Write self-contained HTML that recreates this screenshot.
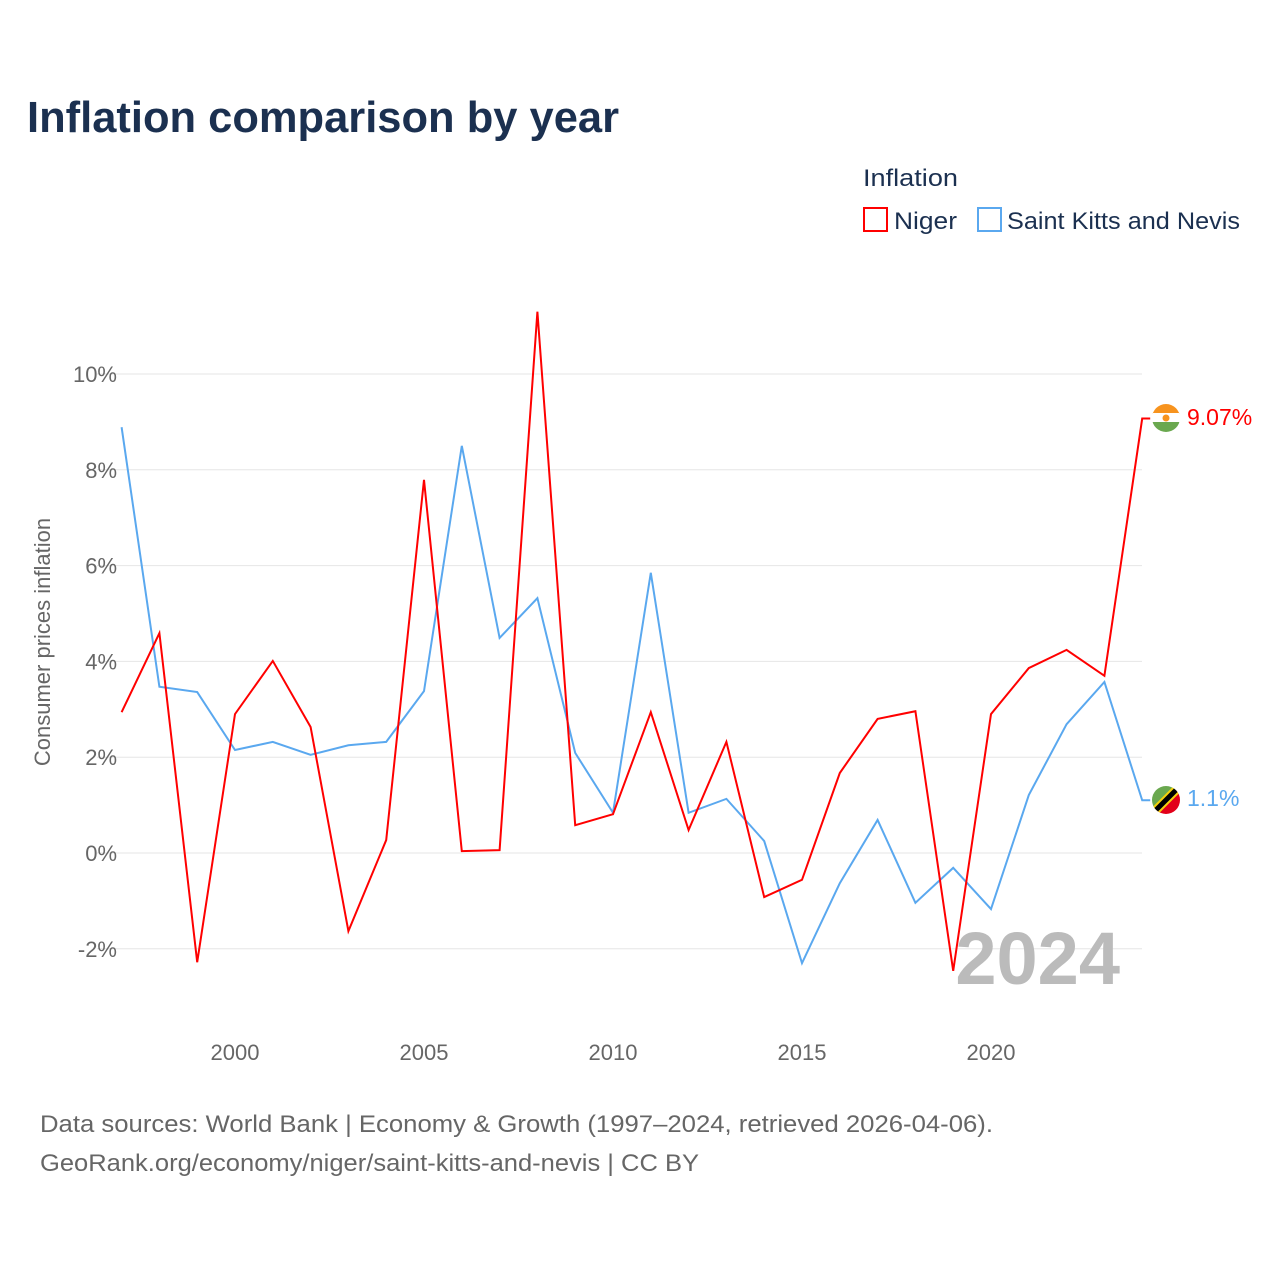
<!DOCTYPE html>
<html><head><meta charset="utf-8">
<style>
body{margin:0;width:1280px;height:1280px;background:#fff;font-family:"Liberation Sans",sans-serif;overflow:hidden}
</style></head>
<body>
<svg width="1280" height="1280" xmlns="http://www.w3.org/2000/svg">
<text x="27" y="132" font-size="44" font-weight="bold" fill="#1b3050" textLength="592" lengthAdjust="spacingAndGlyphs">Inflation comparison by year</text>
<text x="863" y="186" font-size="24" fill="#1b3050" textLength="95" lengthAdjust="spacingAndGlyphs">Inflation</text>
<g><rect x="864" y="208" width="23" height="23" fill="none" stroke="#ff0000" stroke-width="2"/><text x="894" y="229" font-size="24" fill="#1b3050" textLength="63" lengthAdjust="spacingAndGlyphs">Niger</text></g>
<g><rect x="978" y="208" width="23" height="23" fill="none" stroke="#5aa8ef" stroke-width="2"/><text x="1007" y="229" font-size="24" fill="#1b3050" textLength="233" lengthAdjust="spacingAndGlyphs">Saint Kitts and Nevis</text></g>
<text transform="translate(50,642) rotate(-90)" text-anchor="middle" font-size="22" fill="#666">Consumer prices inflation</text>
<g id="grid"></g><g id="xt"></g>
<text x="1120" y="984" text-anchor="end" font-size="74" font-weight="bold" fill="#bbb">2024</text>
<g id="lines"></g>
<g><clipPath id="c1"><circle cx="1166" cy="418" r="14"/></clipPath><g clip-path="url(#c1)"><rect x="1152" y="404" width="28" height="10" fill="#f7931e"/><rect x="1152" y="413" width="28" height="10" fill="#fff"/><rect x="1152" y="422" width="28" height="10" fill="#6aa84f"/><circle cx="1166" cy="418" r="3.5" fill="#f7931e"/></g></g>
<g><clipPath id="c2"><circle cx="1166" cy="800" r="14"/></clipPath><g clip-path="url(#c2)"><polygon points="1152,786 1180,786 1152,814" fill="#6aa84f"/><polygon points="1180,786 1180,814 1152,814" fill="#e2001a"/><line x1="1154" y1="812" x2="1178" y2="788" stroke="#f5d10c" stroke-width="9"/><line x1="1154" y1="812" x2="1178" y2="788" stroke="#000" stroke-width="5"/></g></g>
<text x="1187" y="425" font-size="23" fill="#ff0000">9.07%</text>
<text x="1187" y="806" font-size="23" fill="#5aa8ef">1.1%</text>
<text x="40" y="1132" font-size="24" fill="#666" textLength="953" lengthAdjust="spacingAndGlyphs">Data sources: World Bank | Economy &amp; Growth (1997–2024, retrieved 2026-04-06).</text>
<text x="40" y="1171" font-size="24" fill="#666" textLength="659" lengthAdjust="spacingAndGlyphs">GeoRank.org/economy/niger/saint-kitts-and-nevis | CC BY</text>
</svg>
<script>
const years=[1997,1998,1999,2000,2001,2002,2003,2004,2005,2006,2007,2008,2009,2010,2011,2012,2013,2014,2015,2016,2017,2018,2019,2020,2021,2022,2023,2024];
const niger=[2.94,4.59,-2.28,2.90,4.01,2.63,-1.63,0.27,7.79,0.04,0.06,11.3,0.58,0.81,2.94,0.48,2.32,-0.92,-0.56,1.67,2.80,2.96,-2.46,2.90,3.86,4.24,3.70,9.07];
const skn=[8.89,3.47,3.36,2.15,2.32,2.05,2.25,2.32,3.38,8.50,4.49,5.32,2.09,0.84,5.85,0.84,1.13,0.25,-2.30,-0.63,0.69,-1.04,-0.31,-1.17,1.21,2.69,3.57,1.1];
const yTicks=[-2,0,2,4,6,8,10];
const xTicks=[2000,2005,2010,2015,2020];
const X=y=>235+(y-2000)*37.8;
const Y=v=>853-v*47.9;
const NS="http://www.w3.org/2000/svg";
const g=document.getElementById('grid');
yTicks.forEach(t=>{
 const l=document.createElementNS(NS,'line');
 l.setAttribute('x1',97);l.setAttribute('x2',1142);l.setAttribute('y1',Y(t));l.setAttribute('y2',Y(t));
 l.setAttribute('stroke','#e6e6e6');
 
 
 g.appendChild(l);
 const tx=document.createElementNS(NS,'text');
 tx.setAttribute('x',117);tx.setAttribute('y',Y(t)+8);tx.setAttribute('text-anchor','end');
 tx.setAttribute('font-size','22');tx.setAttribute('fill','#666');
 tx.textContent=t+'%';
 
 
 g.appendChild(tx);
});
const xt=document.getElementById('xt');
xTicks.forEach(t=>{
 const tx=document.createElementNS(NS,'text');
 tx.setAttribute('x',X(t));tx.setAttribute('y',1060);tx.setAttribute('text-anchor','middle');
 tx.setAttribute('font-size','22');tx.setAttribute('fill','#666');
 tx.textContent=t;
 
 
 xt.appendChild(tx);
});
const lg=document.getElementById('lines');
function line(vals,color,name){
 const p=document.createElementNS(NS,'polyline');
 p.setAttribute('points',vals.map((v,i)=>X(years[i])+','+Y(v)).join(' ')+' '+(X(2024)+8)+','+Y(vals[vals.length-1]));
 p.setAttribute('fill','none');p.setAttribute('stroke',color);p.setAttribute('stroke-width','2');
 
 
 lg.appendChild(p);
}
line(skn,'#5aa8ef','skn-line');
line(niger,'#ff0000','niger-line');
</script>
</body></html>
